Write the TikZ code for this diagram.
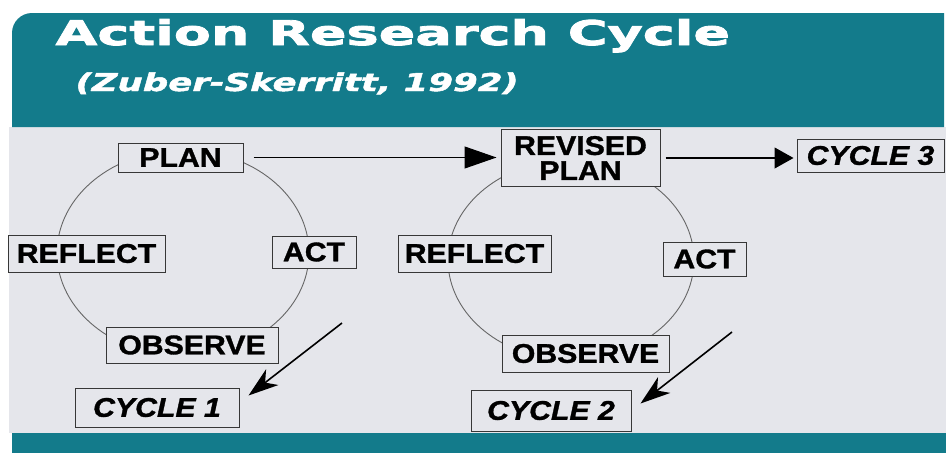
\documentclass[tikz,border=0pt]{standalone}
\usepackage{fontspec}
\setmainfont{Liberation Sans}
\newfontfamily\titlefont[FakeStretch=1.59, FakeBold=2.5]{DejaVu Sans}
\newfontfamily\subtitlefont[FakeStretch=1.45, FakeBold=2]{DejaVu Sans}
\newfontfamily\labelfont[FakeStretch=1.12, FakeBold=1.2]{Liberation Sans}
\usepackage{xcolor}
\usetikzlibrary{
    arrows.meta,
    positioning
}
\definecolor{headteal}{RGB}{19,123,139}
\definecolor{panelgrey}{RGB}{229,230,235}
\definecolor{boxline}{RGB}{55,55,55}

\begin{document}
\begin{tikzpicture}[x=1pt, y=-1pt,
    box/.style={draw=boxline, line width=1pt, fill=panelgrey, inner sep=0pt, align=center,
        font=\labelfont\bfseries\fontsize{27}{25}\selectfont},
    cyclebox/.style={box, font=\labelfont\bfseries\itshape\fontsize{27}{25}\selectfont},
    ring/.style={draw=black!60, line width=0.9pt},
    link/.style={line width=1.1pt, -{Triangle[length=32pt,width=22pt]}},
    pointer/.style={line width=1.6pt, -{Stealth[length=30pt,width=20pt,inset=9pt]}}]
                                \useasboundingbox (0,0) rectangle (946,453);
                                \fill[white] (0,0) rectangle (946,453);
                                \fill[panelgrey] (9,127) rectangle (946,433);
                                \fill[headteal] (12,127) [rounded corners=20pt] -- (12,13) [sharp corners] -- (944,13) -- (944,127) -- cycle;
                                \fill[headteal] (12,433) rectangle (946,453);
                                \node[anchor=base west, text=white, font=\titlefont\bfseries\fontsize{34}{34}\selectfont] (title) at (52,45) {Action Research Cycle};
                                \node[anchor=base west, text=white, font=\subtitlefont\bfseries\itshape\fontsize{24.5}{24.5}\selectfont] (source) at (72,91) {(Zuber-Skerritt, 1992)};
                                \draw[ring] (183,253) ellipse [x radius=126pt, y radius=103pt];
                                \draw[ring] (571,260) ellipse [x radius=123pt, y radius=100pt];
                                \node[box, minimum width=125pt, minimum height=29pt] (plan) at (180.5,157.5) {PLAN};
                                \node[box, minimum width=157pt, minimum height=37pt] (reflect1) at (86.5,253.5) {REFLECT};
                                \node[box, minimum width=84pt, minimum height=32pt] (act1) at (314,252) {ACT};
                                \node[box, minimum width=172pt, minimum height=36pt] (observe1) at (192,345) {OBSERVE};
                                \node[cyclebox, minimum width=164pt, minimum height=39pt] (cycle1) at (157,407.5) {CYCLE 1};
                                \node[box, minimum width=159pt, minimum height=57pt] (revplan) at (580.5,158) {REVISED\\PLAN};
                                \node[box, minimum width=153pt, minimum height=37pt] (reflect2) at (474.5,253.5) {REFLECT};
                                \node[box, minimum width=83pt, minimum height=34pt] (act2) at (704.5,259) {ACT};
                                \node[box, minimum width=167pt, minimum height=37pt] (observe2) at (585.5,353.5) {OBSERVE};
                                \node[cyclebox, minimum width=160pt, minimum height=41pt] (cycle2) at (551,410.5) {CYCLE 2};
                                \node[cyclebox, minimum width=147pt, minimum height=33pt] (cycle3) at (870.5,155.5) {CYCLE 3};
                                \coordinate (tail1) at (342,323);
                                \coordinate (tail2) at (732,332);
                                \draw[link, shorten <=10pt, shorten >=4pt] (plan.east) -- (plan.east -| revplan.west);
                                \draw[link, -{Triangle[length=19pt,width=21pt]}, shorten <=5pt, shorten >=3pt] (revplan.east) -- (revplan.east -| cycle3.west);
                                \draw[pointer] (tail1) -- ([xshift=9pt, yshift=12pt]cycle1.east);
                                \draw[pointer] (tail2) -- ([xshift=9pt, yshift=7pt]cycle2.east);
                            \end{tikzpicture}
\end{document}
